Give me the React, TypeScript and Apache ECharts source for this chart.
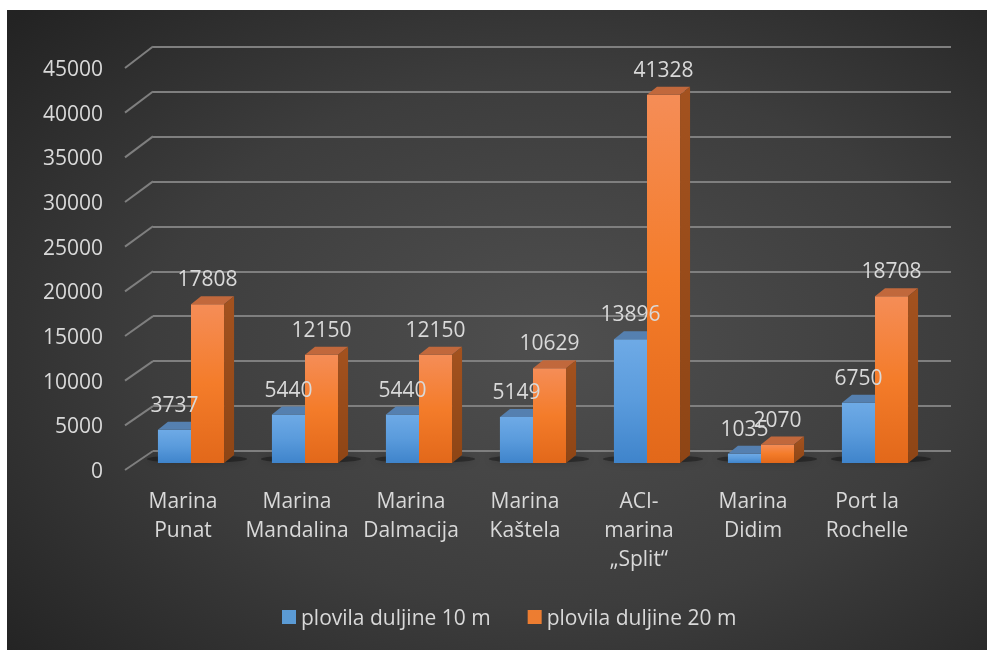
import React, { useEffect, useRef } from "react";
import * as echarts from "echarts";

const categories = [
  "Marina\nPunat",
  "Marina\nMandalina",
  "Marina\nDalmacija",
  "Marina\nKaštela",
  "ACI-\nmarina\n„Split“",
  "Marina\nDidim",
  "Port la\nRochelle",
];
const seriesNames = ["plovila duljine 10 m", "plovila duljine 20 m"];
const boats10m = [3737, 5440, 5440, 5149, 13896, 1035, 6750];
const boats20m = [17808, 12150, 12150, 10629, 41328, 2070, 18708];
const yTicks = [0, 5000, 10000, 15000, 20000, 25000, 30000, 35000, 40000, 45000];
const Y_MAX = 45000;
const Y_INTERVAL = 5000;

const FONT = '"Open Sans", "Noto Sans", sans-serif';
const FONT_SIZE = 21;
const TEXT_COLOR = "#d9d9d9";
const GRID_COLOR = "#7f7f7f";
const DEPTH_X = 10;
const DEPTH_Y = -8;
const BAR_FRACTION = 0.29;

const faceColors = [
  {
    front: ["#6eaae6", "#5a9bdc", "#3f84cb"],
    top: "#5580b0",
    side: ["#3e6c9c", "#2f5b88"],
    legend: "#5b9bd5",
  },
  {
    front: ["#f58d57", "#f47c2a", "#e2681a"],
    top: "#c1683c",
    side: ["#a3521f", "#8e4515"],
    legend: "#ed7d31",
  },
];

function barRender(side: number) {
  return (params: any, api: any) => {
    const idx = api.value(0);
    const val = api.value(1);
    const top = api.coord([idx, val]);
    const base = api.coord([idx, 0]);
    const w = api.size([1, 0])[0] * BAR_FRACTION;
    const x0 = side === 0 ? top[0] - w : top[0];
    const x1 = x0 + w;
    const yT = top[1];
    const yB = base[1];
    const c = faceColors[side];
    return {
      type: "group",
      children: [
        {
          type: "rect",
          shape: { x: x0, y: yT, width: w, height: yB - yT },
          style: {
            fill: new echarts.graphic.LinearGradient(0, 0, 0, 1, [
              { offset: 0, color: c.front[0] },
              { offset: 0.5, color: c.front[1] },
              { offset: 1, color: c.front[2] },
            ]),
          },
        },
        {
          type: "polygon",
          shape: {
            points: [
              [x0, yT],
              [x1, yT],
              [x1 + DEPTH_X, yT + DEPTH_Y],
              [x0 + DEPTH_X, yT + DEPTH_Y],
            ],
          },
          style: { fill: c.top },
        },
        {
          type: "polygon",
          shape: {
            points: [
              [x1, yT],
              [x1 + DEPTH_X, yT + DEPTH_Y],
              [x1 + DEPTH_X, yB + DEPTH_Y],
              [x1, yB],
            ],
          },
          style: {
            fill: new echarts.graphic.LinearGradient(0, 0, 0, 1, [
              { offset: 0, color: c.side[0] },
              { offset: 1, color: c.side[1] },
            ]),
          },
        },
      ],
    };
  };
}

function labelRender(side: number) {
  return (params: any, api: any) => {
    const idx = api.value(0);
    const val = api.value(1);
    const top = api.coord([idx, val]);
    const w = api.size([1, 0])[0] * BAR_FRACTION;
    const cx = side === 0 ? top[0] - w / 2 : top[0] + w / 2;
    return {
      type: "text",
      x: cx,
      y: top[1] - 26,
      style: {
        text: String(val),
        fill: TEXT_COLOR,
        fontSize: FONT_SIZE,
        fontFamily: FONT,
        align: "center",
        verticalAlign: "middle",
      },
    };
  };
}

export default function App() {
  const ref = useRef<HTMLDivElement>(null);

  useEffect(() => {
    if (!ref.current) return;
    const chart = echarts.init(ref.current, undefined, { renderer: "svg" });

    const option: any = {
      animation: false,
      backgroundColor: {
        type: "radial",
        x: 0.56,
        y: 0.52,
        r: 0.75,
        colorStops: [
          { offset: 0, color: "#4f4f4f" },
          { offset: 0.55, color: "#3d3d3d" },
          { offset: 1, color: "#232323" },
        ],
      },
      textStyle: { fontFamily: FONT },
      legend: {
        data: seriesNames.map((n) => ({ name: n, icon: "rect" })),
        left: 275,
        top: 595,
        padding: 0,
        itemWidth: 14,
        itemHeight: 14,
        itemGap: 37,
        textStyle: {
          color: TEXT_COLOR,
          fontSize: FONT_SIZE,
          fontFamily: FONT,
          lineHeight: 24,
        },
      },
      grid: [
        { left: 118, top: 58, width: 28, height: 402 },
        { left: 146, top: 36.7, width: 798, height: 404.3 },
        { left: 127, top: 52, width: 798, height: 401 },
      ],
      xAxis: [
        { type: "value", gridIndex: 0, min: 0, max: 1, show: false },
        { type: "value", gridIndex: 1, min: 0, max: 1, show: false },
        {
          type: "category",
          gridIndex: 2,
          data: categories,
          axisLine: { show: false },
          axisTick: { show: false },
          axisLabel: {
            color: TEXT_COLOR,
            fontSize: FONT_SIZE,
            fontFamily: FONT,
            lineHeight: 29,
            margin: 22,
            padding: [0, 16, 0, 0],
            interval: 0,
          },
        },
      ],
      yAxis: [
        {
          type: "value",
          gridIndex: 0,
          min: 0,
          max: Y_MAX,
          interval: Y_INTERVAL,
          axisLine: { show: false },
          axisTick: { show: false },
          splitLine: { show: false },
          axisLabel: {
            color: TEXT_COLOR,
            fontSize: FONT_SIZE,
            fontFamily: FONT,
            margin: 22,
            formatter: (v: number) => String(v),
          },
        },
        {
          type: "value",
          gridIndex: 1,
          min: 0,
          max: Y_MAX,
          interval: Y_INTERVAL,
          axisLine: { show: false },
          axisTick: { show: false },
          axisLabel: { show: false },
          splitLine: { show: true, lineStyle: { color: GRID_COLOR, width: 2 } },
        },
        {
          type: "value",
          gridIndex: 2,
          min: 0,
          max: Y_MAX,
          interval: Y_INTERVAL,
          show: false,
        },
      ],
      series: [
        {
          type: "custom",
          name: "diagonals",
          xAxisIndex: 0,
          yAxisIndex: 0,
          silent: true,
          data: yTicks.map((v) => [0, v]),
          renderItem: (params: any, api: any) => {
            const v = api.value(1);
            const p = api.coord([0, v]);
            const dy = 19 + 2.5 * (v / Y_MAX);
            return {
              type: "line",
              shape: { x1: p[0], y1: p[1], x2: p[0] + 28, y2: p[1] - dy },
              style: { stroke: GRID_COLOR, lineWidth: 2 },
            };
          },
        },
        {
          type: "custom",
          name: "shadows",
          xAxisIndex: 2,
          yAxisIndex: 2,
          silent: true,
          data: categories.map((_, i) => [i, 0]),
          renderItem: (params: any, api: any) => {
            const p = api.coord([api.value(0), 0]);
            const w = api.size([1, 0])[0];
            return {
              type: "ellipse",
              shape: { cx: p[0] + 6, cy: p[1] - 4, rx: w * 0.44, ry: 4 },
              style: {
                fill: "rgba(0,0,0,0.35)",
                shadowBlur: 10,
                shadowColor: "rgba(0,0,0,0.6)",
              },
            };
          },
        },
        {
          type: "custom",
          name: seriesNames[0],
          xAxisIndex: 2,
          yAxisIndex: 2,
          itemStyle: { color: faceColors[0].legend },
          data: boats10m.map((v, i) => [i, v]),
          renderItem: barRender(0),
        },
        {
          type: "custom",
          name: seriesNames[1],
          xAxisIndex: 2,
          yAxisIndex: 2,
          itemStyle: { color: faceColors[1].legend },
          data: boats20m.map((v, i) => [i, v]),
          renderItem: barRender(1),
        },
        {
          type: "custom",
          name: seriesNames[0],
          xAxisIndex: 2,
          yAxisIndex: 2,
          z: 5,
          silent: true,
          itemStyle: { color: faceColors[0].legend },
          data: boats10m.map((v, i) => [i, v]),
          renderItem: labelRender(0),
        },
        {
          type: "custom",
          name: seriesNames[1],
          xAxisIndex: 2,
          yAxisIndex: 2,
          z: 5,
          silent: true,
          itemStyle: { color: faceColors[1].legend },
          data: boats20m.map((v, i) => [i, v]),
          renderItem: labelRender(1),
        },
      ],
    };

    chart.setOption(option);
    return () => chart.dispose();
  }, []);

  return (
    <div
      ref={ref}
      style={{ position: "fixed", left: 7, top: 10, width: 980, height: 640 }}
    />
  );
}
